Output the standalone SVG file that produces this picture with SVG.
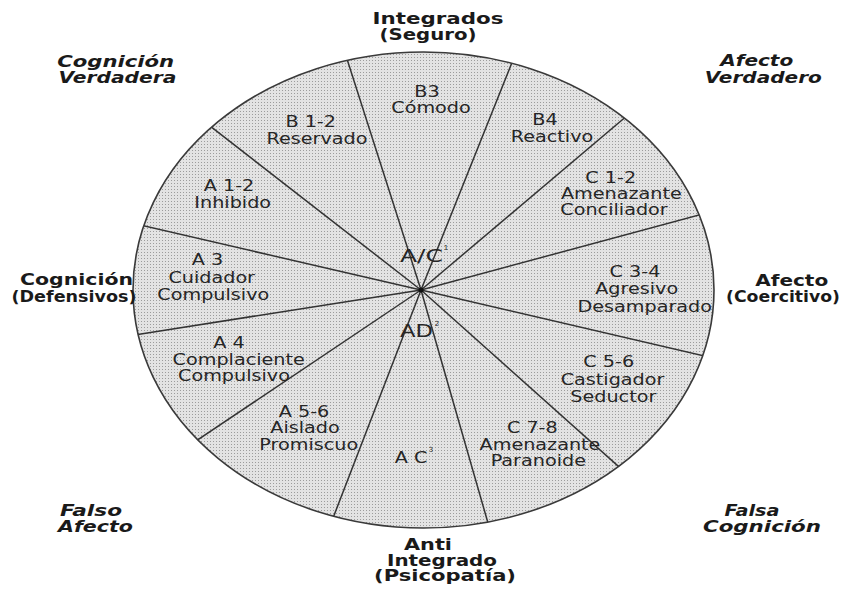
<svg xmlns="http://www.w3.org/2000/svg" width="842" height="594" viewBox="0 0 842 594">
<style>
.seg{font-family:"DejaVu Sans","Liberation Sans",sans-serif;font-size:16px;fill:#262626;text-anchor:middle}
.ctr{font-family:"DejaVu Sans","Liberation Sans",sans-serif;font-size:18px;fill:#262626;text-anchor:middle}
.sup{font-family:"DejaVu Sans","Liberation Sans",sans-serif;font-size:7px;fill:#262626;text-anchor:middle}
.out{font-family:"DejaVu Sans","Liberation Sans",sans-serif;font-size:16px;font-weight:bold;fill:#1a1a1a;text-anchor:middle}
.it{font-style:italic}
.spoke{stroke:#333;stroke-width:1.5;fill:none}
</style>
<defs>
<pattern id="dots" width="3" height="3" patternUnits="userSpaceOnUse">
<rect width="3" height="3" fill="#e3e3e3"/>
<rect width="1" height="1" fill="#9c9c9c"/>
</pattern>
<clipPath id="clip"><ellipse cx="423.5" cy="290" rx="290.5" ry="238"/></clipPath>
</defs>
<rect width="842" height="594" fill="#fff"/>
<g id="wheel">
<ellipse cx="423.5" cy="290" rx="290.5" ry="238" fill="url(#dots)"/>
</g>
<g id="connectors" clip-path="url(#clip)">
<line class="spoke" x1="421" y1="290" x2="335.9" y2="24.35"/>
<line class="spoke" x1="421" y1="290" x2="524.5" y2="31.25"/>
<line class="spoke" x1="421" y1="290" x2="652.15" y2="94.5"/>
<line class="spoke" x1="421" y1="290" x2="740.7" y2="203.75"/>
<line class="spoke" x1="421" y1="290" x2="741.85" y2="364.75"/>
<line class="spoke" x1="421" y1="290" x2="647.55" y2="492.4"/>
<line class="spoke" x1="421" y1="290" x2="498.05" y2="557.95"/>
<line class="spoke" x1="421" y1="290" x2="319.8" y2="552.2"/>
<line class="spoke" x1="421" y1="290" x2="162.25" y2="463.65"/>
<line class="spoke" x1="421" y1="290" x2="90.95" y2="341.75"/>
<line class="spoke" x1="421" y1="290" x2="97.85" y2="215.25"/>
<line class="spoke" x1="421" y1="290" x2="178.35" y2="101.4"/>
</g>
<ellipse cx="423.5" cy="290" rx="290.5" ry="238" fill="none" stroke="#3a3a3a" stroke-width="1.6"/>
<circle cx="421" cy="290" r="2.5" fill="#111"/>

<g id="b12"><text class="seg" transform="translate(310.7 126.7) scale(1.2 1)">B 1-2</text><text class="seg" transform="translate(317 144.3) scale(1.2 1)">Reservado</text></g>
<g id="b3"><text class="seg" transform="translate(427 96.5) scale(1.2 1)">B3</text><text class="seg" transform="translate(431 113.3) scale(1.2 1)">Cómodo</text></g>
<g id="b4"><text class="seg" transform="translate(545 125) scale(1.2 1)">B4</text><text class="seg" transform="translate(552 141.7) scale(1.2 1)">Reactivo</text></g>
<g id="c12"><text class="seg" transform="translate(610.7 183.3) scale(1.2 1)">C 1-2</text><text class="seg" transform="translate(621.3 199.3) scale(1.2 1)">Amenazante</text><text class="seg" transform="translate(614 215) scale(1.2 1)">Conciliador</text></g>
<g id="c34"><text class="seg" transform="translate(635 276.7) scale(1.2 1)">C 3-4</text><text class="seg" transform="translate(636.7 294.3) scale(1.2 1)">Agresivo</text><text class="seg" transform="translate(644.7 311.7) scale(1.2 1)">Desamparado</text></g>
<g id="c56"><text class="seg" transform="translate(608.7 366.7) scale(1.2 1)">C 5-6</text><text class="seg" transform="translate(612.5 385) scale(1.2 1)">Castigador</text><text class="seg" transform="translate(613.3 401.7) scale(1.2 1)">Seductor</text></g>
<g id="c78"><text class="seg" transform="translate(532.3 433.3) scale(1.2 1)">C 7-8</text><text class="seg" transform="translate(540 450) scale(1.2 1)">Amenazante</text><text class="seg" transform="translate(538.3 466) scale(1.2 1)">Paranoide</text></g>
<g id="ac3"><text class="seg" transform="translate(411 463) scale(1.2 1)">A C</text><text class="sup" x="431" y="452">3</text></g>
<g id="a56"><text class="seg" transform="translate(304 416.7) scale(1.2 1)">A 5-6</text><text class="seg" transform="translate(305 433.3) scale(1.2 1)">Aislado</text><text class="seg" transform="translate(308.7 450) scale(1.2 1)">Promiscuo</text></g>
<g id="a4"><text class="seg" transform="translate(229 348.3) scale(1.2 1)">A 4</text><text class="seg" transform="translate(238.7 365) scale(1.2 1)">Complaciente</text><text class="seg" transform="translate(234 381) scale(1.2 1)">Compulsivo</text></g>
<g id="a3"><text class="seg" transform="translate(207.5 265) scale(1.2 1)">A 3</text><text class="seg" transform="translate(211.7 282.7) scale(1.2 1)">Cuidador</text><text class="seg" transform="translate(213.3 300) scale(1.2 1)">Compulsivo</text></g>
<g id="a12"><text class="seg" transform="translate(229 191) scale(1.2 1)">A 1-2</text><text class="seg" transform="translate(232.7 208.3) scale(1.2 1)">Inhibido</text></g>
<g id="ac1"><text class="ctr" x="421.5" y="262" textLength="43" lengthAdjust="spacingAndGlyphs">A/C</text><text class="sup" x="446" y="250">1</text></g>
<g id="ad2"><text class="ctr" x="416.5" y="337" textLength="33" lengthAdjust="spacingAndGlyphs">AD</text><text class="sup" x="437" y="326">2</text></g>

<g id="top"><text class="out" x="438" y="24" textLength="131" lengthAdjust="spacingAndGlyphs">Integrados</text><text class="out" x="428" y="40" textLength="97" lengthAdjust="spacingAndGlyphs">(Seguro)</text></g>
<g id="topleft"><text class="out it" x="115.7" y="66.7" textLength="117" lengthAdjust="spacingAndGlyphs">Cognición</text><text class="out it" x="117.5" y="83.3" textLength="118" lengthAdjust="spacingAndGlyphs">Verdadera</text></g>
<g id="topright"><text class="out it" x="756.7" y="66" textLength="73" lengthAdjust="spacingAndGlyphs">Afecto</text><text class="out it" x="763.3" y="82.7" textLength="117" lengthAdjust="spacingAndGlyphs">Verdadero</text></g>
<g id="left"><text class="out" x="76.5" y="285" textLength="113" lengthAdjust="spacingAndGlyphs">Cognición</text><text class="out" x="74" y="301.5" textLength="125" lengthAdjust="spacingAndGlyphs">(Defensivos)</text></g>
<g id="right"><text class="out" x="791.7" y="286" textLength="73" lengthAdjust="spacingAndGlyphs">Afecto</text><text class="out" x="783" y="302" textLength="114" lengthAdjust="spacingAndGlyphs">(Coercitivo)</text></g>
<g id="bottomleft"><text class="out it" x="91" y="516" textLength="62" lengthAdjust="spacingAndGlyphs">Falso</text><text class="out it" x="95.5" y="532" textLength="75" lengthAdjust="spacingAndGlyphs">Afecto</text></g>
<g id="bottomright"><text class="out it" x="752" y="516" textLength="55" lengthAdjust="spacingAndGlyphs">Falsa</text><text class="out it" x="762" y="532" textLength="118" lengthAdjust="spacingAndGlyphs">Cognición</text></g>
<g id="bottom"><text class="out" x="428" y="550" textLength="48" lengthAdjust="spacingAndGlyphs">Anti</text><text class="out" x="442" y="566" textLength="110" lengthAdjust="spacingAndGlyphs">Integrado</text><text class="out" x="445" y="581" textLength="142" lengthAdjust="spacingAndGlyphs">(Psicopatía)</text></g>
</svg>
